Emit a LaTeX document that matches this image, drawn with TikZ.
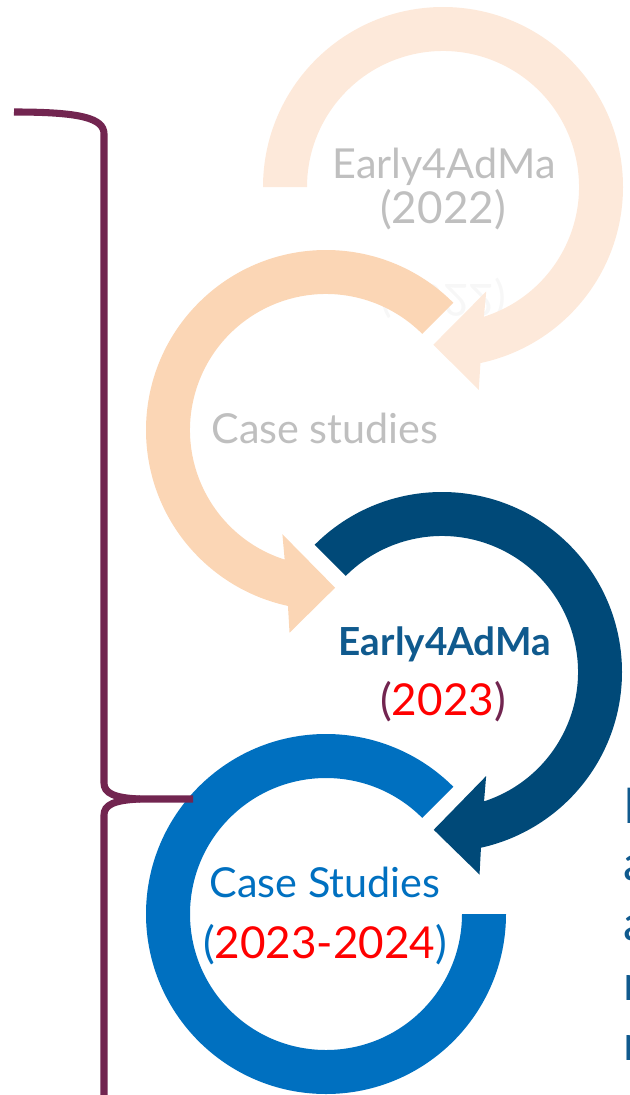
\documentclass[tikz,border=0pt]{standalone}
\usepackage{fontspec}
\setmainfont{Lato}
\definecolor{paleorange}{RGB}{253,233,218}
\definecolor{peach}{RGB}{251,214,181}
\definecolor{navy}{RGB}{0,73,120}
\definecolor{caseblue}{RGB}{0,112,192}
\definecolor{maroon}{RGB}{114,37,80}
\definecolor{fadegray}{RGB}{191,191,191}
\definecolor{titleblue}{RGB}{16,90,142}
\tikzset{x=0.75pt, y=-0.75pt,
  lbl/.style={anchor=base, inner sep=0pt, font=\fontsize{31}{37}\selectfont},
  yearlbl/.style={lbl, font=\fontsize{33}{39}\selectfont},
  brace/.style={draw=maroon, line width=5.3pt, line cap=butt}}
% ring arrow: centre, start angle, tip angle, direction (1 or -1), colour
\newcommand{\cyclearrow}[5]{%
  \fill[#5, shift={#1}] (#2:180)
    arc[start angle=#2, end angle={#3-(#4)*15.5}, radius=180]
    -- ({#3-(#4)*13.5}:206) -- (#3:158) -- ({#3-(#4)*26}:113)
    -- ({#3-(#4)*21}:136)
    arc[start angle={#3-(#4)*21}, end angle=#2, radius=136] -- cycle;}

\begin{document}
\begin{tikzpicture}
\useasboundingbox (0,0) rectangle (629,1095);

% faded reflection of the first year
\node[yearlbl, text=fadegray, opacity=0.12, yscale=-1] (ghost) at (443,284) {(2022)};

\cyclearrow{(443,187)}{180}{453.5}{1}{paleorange}
\cyclearrow{(326,430)}{-45}{-273.3}{-1}{peach}
\cyclearrow{(442,672)}{225}{453}{1}{navy}
\fill[caseblue, shift={(326,914)}] (0:180) arc[start angle=0, end angle=315, radius=180]
  -- (315:136) arc[start angle=315, end angle=0, radius=136] -- cycle;

\node[lbl, text=fadegray] (early22) at (444,178) {Early4AdMa};
\node[yearlbl, text=fadegray] (early22yr) at (443,223) {(2022)};
\node[lbl, text=fadegray] (cases) at (325,443) {Case studies};
\node[lbl, text=titleblue, font=\fontsize{29}{35}\selectfont\bfseries] (early23) at (445,655) {Early4AdMa};
\node[yearlbl, text=maroon] (early23yr) at (443,715) {(\textcolor{red}{2023})};
\node[lbl, text=caseblue] (cases24) at (325,897) {Case Studies};
\node[yearlbl, text=caseblue] (cases24yr) at (325,958) {(\textcolor{red}{2023-2024})};

% text running off the right edge
\foreach \t/\y [count=\i] in {I/823, a/880, a/940, n/1000, n/1060}
  \node[anchor=base west, inner sep=0pt, text=titleblue,
        font=\fontsize{37}{44}\selectfont] (side\i) at (623,\y) {\t};

% brace
\coordinate (bracetip) at (193,799);
\draw[brace] (14,112) .. controls (80,112) and (104,118) .. (104,134) -- (104,783)
  .. controls (104,793) and (114,798) .. (140,799) -- (bracetip);
\draw[brace] (140,799) .. controls (114,800) and (104,805) .. (104,815) -- (104,1100);
\end{tikzpicture}
\end{document}
